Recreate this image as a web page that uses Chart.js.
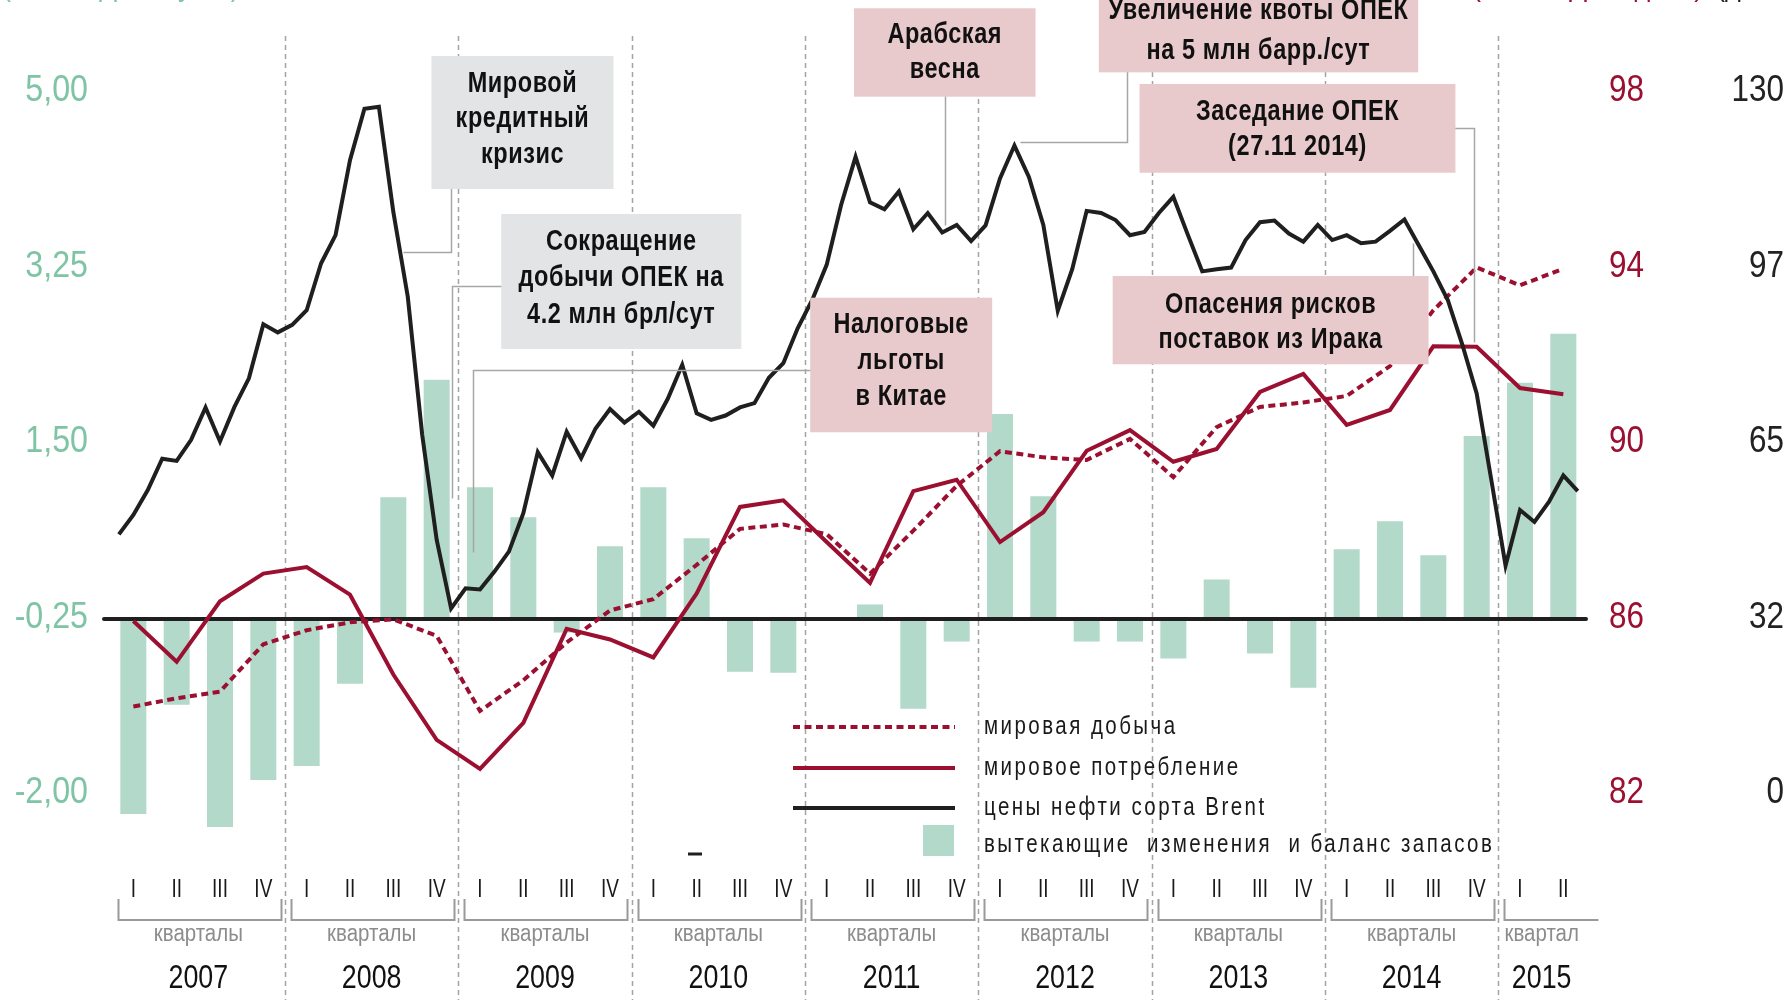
<!DOCTYPE html>
<html><head><meta charset="utf-8">
<script src="https://cdn.jsdelivr.net/npm/chart.js@4.4.1/dist/chart.umd.min.js"></script>
<style>html,body{margin:0;padding:0;background:#fff;overflow:hidden}canvas{display:block}</style>
</head><body>
<canvas id="c" width="1789" height="1000"></canvas>
<script>
// ---------------- DATA ----------------
const years = ['2007','2008','2009','2010','2011','2012','2013','2014','2015'];
const quartersPerYear = [4,4,4,4,4,4,4,4,2];
const quarterNames = ['I','II','III','IV'];
const quarterGroupLabels = ['кварталы','кварталы','кварталы','кварталы','кварталы','кварталы','кварталы','кварталы','квартал'];

// inventory change & balance (left axis), quarterly 2007 I .. 2015 II
const inventoryBalance = [-2.21,-1.12,-2.34,-1.87, -1.73,-0.91,0.95,2.12, 1.05,0.75,-0.40,0.46, 1.05,0.54,-0.79,-0.80,
  -0.27,-0.12,-1.16,-0.49, 1.78,0.96,-0.49,-0.49, -0.66,0.13,-0.61,-0.95, 0.43,0.71,0.37,1.56, 2.09,2.58];
// world production (middle right axis)
const worldProduction = [83.97,84.16,84.31,85.39, 85.71,85.89,85.96,85.58, 83.87,84.57,85.43,86.16, 86.42,87.2,88.02,88.12,
  87.9,87.0,87.98,89.0, 89.79,89.65,89.59,90.07, 89.2,90.34,90.8,90.9, 91.05,91.73,93.0,93.98, 93.57,93.95];
// world consumption (middle right axis)
const worldConsumption = [85.92,84.99,86.37,87.0, 87.15,86.52,84.7,83.21, 82.55,83.6,85.74,85.5, 85.09,86.55,88.52,88.67,
  87.72,86.79,88.88,89.14, 87.72,88.4,89.8,90.27, 89.55,89.84,91.14,91.55, 90.39,90.73,92.18,92.17, 91.23,91.09];
// Brent price, monthly Jan 2007 .. Jun 2015 (far right axis)
const brentMonthly = [
  47.9,51.5,56.1,61.9,61.5,65.4,71.4,65.1,71.5,76.8,86.8,85.3,
  86.7,89.4,98.1,103.3,117.2,126.7,127.1,107.6,91.9,66.3,46.9,34.2,
  37.9,37.7,41.0,44.7,51.8,63.1,58.8,66.9,62.0,67.5,71.1,68.6,
  70.6,68.0,73.0,79.3,70.3,69.1,69.9,71.4,72.2,76.9,79.6,86.1,
  91.3,97.8,108.9,117.8,109.4,108.1,111.4,104.4,107.4,103.8,105.2,102.2,
  105.1,113.8,119.9,114.1,105.2,89.3,97.0,107.8,107.4,106.1,103.3,103.9,
  107.4,110.4,103.4,96.6,97.0,97.3,102.4,105.7,106.0,103.6,102.1,105.2,
  102.4,103.3,101.8,102.1,104.1,106.2,101.4,96.6,91.3,83.1,74.0,58.2,
  42.1,52.4,50.2,53.9,58.8,55.9];

const leftTicks = [-2, -0.25, 1.5, 3.25, 5];
const leftTickLabels = ['-2,00','-0,25','1,50','3,25','5,00'];
const redTicks = [82, 86, 90, 94, 98];
const redTickLabels = ['82','86','90','94','98'];
const brentTicks = [0, 32.5, 65, 97.5, 130];
const brentTickLabels = ['0','32','65','97','130'];

const seriesNames = ['мировая добыча','мировое потребление','цены нефти сорта Brent','вытекающие  изменения  и баланс запасов'];

// ---------------- STYLE ----------------
const FN = '"Liberation Sans", Arimo, Arial, sans-serif';
const RED = '#9b1030', BLACK = '#1f1f1f', GREEN_BAR = '#b3d9ca', GREEN_TXT = '#7fc4a5';
const GRAY_BOX = '#e3e4e6', PINK_BOX = '#e9cacc', LEADER = '#a6a6a6', SEP = '#a3a3a3';

const callouts = [
  {lines:['Мировой','кредитный','кризис'], fill:GRAY_BOX, x0:6.88, x1:11.08, y0:5.349, y1:4.023, lh:35.5, dy:-3,
   leader:[[7.34,4.2],[7.34,3.398],[6.23,3.398]]},
  {lines:['Сокращение','добычи ОПЕК на','4.2 млн брл/сут'], fill:GRAY_BOX, x0:8.49, x1:14.03, y0:3.774, y1:2.428, lh:36.7, dy:-3,
   leader:[[8.7,3.059],[7.36,3.059],[7.36,0.939]]},
  {lines:['Налоговые','льготы','в Китае'], fill:PINK_BOX, x0:15.62, x1:19.82, y0:2.939, y1:1.597, lh:35.8, dy:-4,
   leader:[[15.8,2.218],[7.85,2.218],[7.85,0.406]]},
  {lines:['Арабская','весна'], fill:PINK_BOX, x0:16.63, x1:20.82, y0:5.825, y1:4.943, lh:35, dy:0,
   leader:[[18.74,5.0],[18.74,3.664]]},
  {lines:['Увеличение квоты ОПЕК','на 5 млн барр./сут'], fill:PINK_BOX, x0:22.28, x1:29.65, y0:6.05, y1:5.186, lh:40, dy:2,
   leader:[[22.94,5.3],[22.94,4.491],[20.47,4.491]]},
  {lines:['Заседание ОПЕК','(27.11 2014)'], fill:PINK_BOX, x0:23.22, x1:30.51, y0:5.07, y1:4.185, lh:35, dy:1,
   leader:[[30.3,4.628],[30.95,4.628],[30.95,2.5]]},
  {lines:['Опасения рисков','поставок из Ирака'], fill:PINK_BOX, x0:22.60, x1:29.89, y0:3.155, y1:2.275, lh:35, dy:2,
   leader:[[29.53,3.0],[29.53,3.481]]}
];

// condensed text helper
function txt(ctx, s, x, y, font, color, align, sx, ls, stroke) {
  ctx.save();
  ctx.font = font; ctx.fillStyle = color; ctx.textAlign = align; ctx.textBaseline = 'middle';
  if (ls) { try { ctx.letterSpacing = ls + 'px'; } catch (e) {} }
  ctx.translate(x, y); ctx.scale(sx, 1); ctx.fillText(s, 0, 0);
  if (stroke) { ctx.strokeStyle = color; ctx.lineWidth = stroke; ctx.lineJoin = 'round'; ctx.strokeText(s, 0, 0); }
  ctx.restore();
}

// ---------------- PLUGIN ----------------
const overlay = {
  id: 'overlay',
  beforeDatasetsDraw(chart) {
    const {ctx, scales:{x}} = chart;
    ctx.save();
    ctx.strokeStyle = SEP; ctx.lineWidth = 1.5; ctx.setLineDash([5,4]);
    for (let k = 1; k < years.length; k++) {
      const px = Math.round(x.getPixelForValue(4*k - 0.5)) + 0.5;
      ctx.beginPath(); ctx.moveTo(px, 36); ctx.lineTo(px, 1000); ctx.stroke();
    }
    ctx.restore();
  },
  afterDatasetDraw(chart, args) {
    if (args.meta.type !== 'bar') return;
    const {ctx, chartArea, scales:{y}} = chart;
    const py = y.getPixelForValue(-0.25) + 1.5;
    ctx.save();
    ctx.strokeStyle = BLACK; ctx.lineWidth = 4; ctx.lineCap = 'round';
    ctx.beginPath(); ctx.moveTo(chartArea.left + 1, py); ctx.lineTo(chartArea.right + 1, py); ctx.stroke();
    ctx.restore();
  },
  afterDatasetsDraw(chart) {
    const {ctx, scales:{x, y, y1, y2}} = chart;
    ctx.save();
    // axis tick labels (condensed)
    const tf = '37px ' + FN;
    leftTicks.forEach((v, i) => txt(ctx, leftTickLabels[i], y.right - 15, y.getPixelForValue(v), tf, GREEN_TXT, 'right', 0.87));
    redTicks.forEach((v, i) => txt(ctx, redTickLabels[i], y1.left + 24, y1.getPixelForValue(v), tf, RED, 'left', 0.85));
    brentTicks.forEach((v, i) => txt(ctx, brentTickLabels[i], y2.right, y2.getPixelForValue(v), tf, '#222', 'right', 0.85));
    // callouts
    callouts.forEach(c => {
      ctx.strokeStyle = LEADER; ctx.lineWidth = 1.5; ctx.setLineDash([]);
      ctx.beginPath();
      c.leader.forEach((p, i) => {
        const px = Math.round(x.getPixelForValue(p[0])) + 0.5, py = Math.round(y.getPixelForValue(p[1])) + 0.5;
        i ? ctx.lineTo(px, py) : ctx.moveTo(px, py);
      });
      ctx.stroke();
      const l = x.getPixelForValue(c.x0), r = x.getPixelForValue(c.x1);
      const t = y.getPixelForValue(c.y0), b = y.getPixelForValue(c.y1);
      ctx.fillStyle = c.fill; ctx.fillRect(l, t, r - l, b - t);
      const cx = (l + r) / 2, cy = (t + b) / 2 + c.dy;
      c.lines.forEach((s, i) => txt(ctx, s, cx, cy + (i - (c.lines.length - 1) / 2) * c.lh, 'bold 29px ' + FN, '#111', 'center', 0.81, 0.7));
    });
    // legend
    const ds = chart.data.datasets;
    const rows = [727, 768, 808, 845];
    ds.forEach((d, i) => {
      const ry = rows[i];
      if (d.type === 'bar') {
        ctx.fillStyle = d.backgroundColor; ctx.fillRect(923, ry - 20, 31, 31);
      } else {
        ctx.strokeStyle = d.borderColor; ctx.lineWidth = d.borderWidth;
        ctx.setLineDash(d.borderDash || []);
        ctx.beginPath(); ctx.moveTo(793, ry); ctx.lineTo(955, ry); ctx.stroke();
        ctx.setLineDash([]);
      }
      txt(ctx, d.label, 984, ry, '25px ' + FN, '#1a1a1a', 'left', 0.82, 3);
    });
    // x-axis: quarters, brackets, groups, years
    let q = 0;
    years.forEach((yr, k) => {
      const n = quartersPerYear[k];
      for (let j = 0; j < n; j++) txt(ctx, quarterNames[j], x.getPixelForValue(q + j), 890.5, '25px ' + FN, '#1a1a1a', 'center', 0.76);
      const bl = Math.round(x.getPixelForValue(4*k - 0.36)) + 0.5;
      const br = Math.round(x.getPixelForValue(Math.min(4*k + 3.4, 33.8))) + 0.5;
      ctx.strokeStyle = '#9a9a9a'; ctx.lineWidth = 2; ctx.setLineDash([]);
      ctx.beginPath();
      ctx.moveTo(bl, 899); ctx.lineTo(bl, 920); ctx.lineTo(br, 920);
      if (n === 4) ctx.lineTo(br, 899);
      ctx.stroke();
      const cx = x.getPixelForValue(4*k + (n - 1) / 2);
      txt(ctx, quarterGroupLabels[k], cx, 935, '23px ' + FN, '#8c8c8c', 'center', 0.89);
      txt(ctx, yr, cx, 979, '33.5px ' + FN, '#111', 'center', 0.8);
      q += n;
    });
    // small dash artefact
    ctx.strokeStyle = BLACK; ctx.lineWidth = 3;
    ctx.beginPath(); ctx.moveTo(688, 854); ctx.lineTo(702, 854); ctx.stroke();
    // cut-off axis titles at the very top
    ctx.font = '27px ' + FN; ctx.textBaseline = 'alphabetic';
    ctx.textAlign = 'left'; ctx.fillStyle = GREEN_TXT; ctx.fillText('(млн барр. в сутки)', 2, -4);
    ctx.fillStyle = RED; ctx.fillText('(млн барр. в день)', 1472, -4);
    ctx.fillStyle = BLACK; ctx.fillText('(долл./барр.)', 1716, -4);
    ctx.restore();
  }
};

// ---------------- CHART ----------------
const quarterIdx = inventoryBalance.map((_, i) => i);
const ctx = document.getElementById('c').getContext('2d');
new Chart(ctx, {
  data: {
    datasets: [
      {type:'line', label: seriesNames[0], data: worldProduction.map((v,i)=>({x:quarterIdx[i], y:v})), yAxisID:'y1', xAxisID:'x',
       borderColor: RED, borderWidth: 4, borderDash:[7,4.5], pointRadius:0, tension:0, order:2},
      {type:'line', label: seriesNames[1], data: worldConsumption.map((v,i)=>({x:quarterIdx[i], y:v})), yAxisID:'y1', xAxisID:'x',
       borderColor: RED, borderWidth: 4, pointRadius:0, tension:0, order:1},
      {type:'line', label: seriesNames[2], data: brentMonthly.map((v,m)=>({x:(m-1)/3, y:v})), yAxisID:'y2', xAxisID:'x',
       borderColor: BLACK, borderWidth: 4, pointRadius:0, tension:0, order:0},
      {type:'bar', label: seriesNames[3], data: inventoryBalance.map((v,i)=>({x:quarterIdx[i], y:v})), yAxisID:'y', xAxisID:'x',
       backgroundColor: GREEN_BAR, base: -0.25, barPercentage: 0.6, categoryPercentage: 1.0, clip: false, order:3}
    ]
  },
  options: {
    responsive: false, animation: false, devicePixelRatio: 1,
    layout: {padding: {top: 91, bottom: 207, left: 0, right: 5}},
    plugins: {legend: {display:false}, tooltip: {enabled:false}},
    scales: {
      x: {type:'linear', min:-0.7, max:33.5, offset:false, bounds:'data', display:true,
          afterFit: s => { s.height = 0; },
          grid:{display:false, drawTicks:false}, border:{display:false}, ticks:{display:false}},
      y: {position:'left', min:-2, max:5,
          afterBuildTicks: s => { s.ticks = leftTicks.map(v => ({value:v})); },
          afterFit: s => { s.width = 103; },
          grid:{display:false, drawTicks:false}, border:{display:false},
          ticks:{display:false}},
      y1: {position:'right', min:82, max:98,
          afterBuildTicks: s => { s.ticks = redTicks.map(v => ({value:v})); },
          afterFit: s => { s.width = 60; },
          grid:{display:false, drawTicks:false}, border:{display:false},
          ticks:{display:false}},
      y2: {position:'right', min:0, max:130,
          afterBuildTicks: s => { s.ticks = brentTicks.map(v => ({value:v})); },
          afterFit: s => { s.width = 139; },
          grid:{display:false, drawTicks:false}, border:{display:false},
          ticks:{display:false}}
    }
  },
  plugins: [overlay]
});
</script>
</body></html>
